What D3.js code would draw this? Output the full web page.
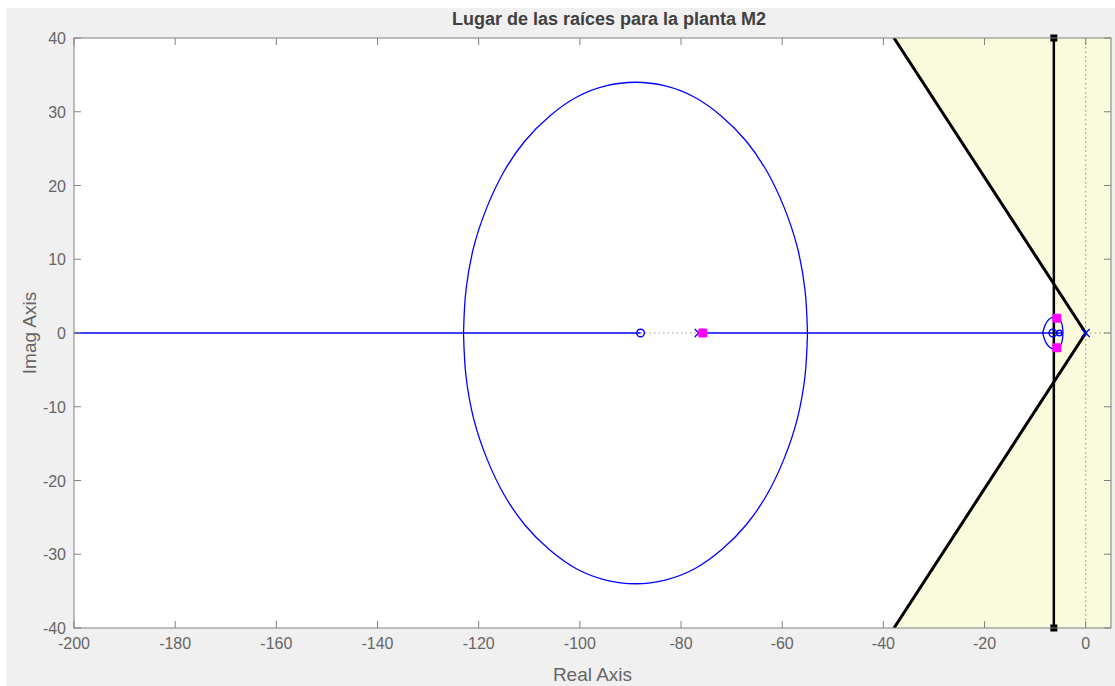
<!DOCTYPE html>
<html><head><meta charset="utf-8">
<script src="https://cdn.jsdelivr.net/npm/d3@7"></script>
<style>body{margin:0;background:#fff;}svg{display:block;font-family:"Liberation Sans",Arial,sans-serif;}</style>
</head><body>
<script>
// ---- data ----
const title = "Lugar de las raíces para la planta M2";
const xLabel = "Real Axis", yLabel = "Imag Axis";
const xDomain = [-200, 5], yDomain = [-40, 40];
const xTicks = [-200,-180,-160,-140,-120,-100,-80,-60,-40,-20,0];
const yTicks = [-40,-30,-20,-10,0,10,20,30,40];
// root locus big loop (upper half)
const loopUpperX = [-55,-55.5,-57,-59.6,-63,-67.1,-72,-77.4,-83.1,-89,-94.9,-100.6,-106,-110.9,-115,-118.4,-121,-122.5,-123];
const loopUpperY = [0,5.9,11.6,17,21.9,26,29.4,32,33.5,34,33.5,32,29.4,26,21.9,17,11.6,5.9,0];
// small loop near origin (upper half)
const smallUpperX = [-4.5,-4.7,-5.3,-6.2,-7.2,-8.0,-8.5];
const smallUpperY = [0,1.2,2.0,2.2,1.9,1.1,0];
// real-axis branches
const realSegments = [[-200,-88],[-76.5,-4.5]];
const dottedSegments = [[-88,-76.5],[0,5]];
const zerosX = [-88,-6.5,-5.2];
const polesX = [-76.5,0];
const clPolesX = [-75.7,-5.7,-5.7];
const clPolesY = [0,2,-2];
// design requirements
const settlingX = -6.3;
const dampX = -37.9; // cone reaches y=±40 at this real part

// ---- layout ----
const W = 1115, H = 686;
const L = 74, R = 1111, T = 38, B = 628;
const svg = d3.select("body").append("svg").attr("width",W).attr("height",H);
svg.append("rect").attr("x",6).attr("y",8).attr("width",W-6).attr("height",H-8).attr("fill","#f0f0f0");
const x = d3.scaleLinear().domain(xDomain).range([L,R]);
const y = d3.scaleLinear().domain(yDomain).range([B,T]);
svg.append("rect").attr("x",L).attr("y",T).attr("width",R-L).attr("height",B-T).attr("fill","#fff");
const g = svg.append("g");
g.append("defs").append("clipPath").attr("id","clip").append("rect").attr("x",L).attr("y",T).attr("width",R-L).attr("height",B-T);
const pg = g.append("g").attr("clip-path","url(#clip)");

// shaded region
const sy = -settlingX*40/(-dampX);
const shade = [[dampX,40],[settlingX,sy],[settlingX,-sy],[dampX,-40],[xDomain[1],-40],[xDomain[1],40]];
pg.append("path").attr("d",d3.line().x(d=>x(d[0])).y(d=>y(d[1]))(shade)+"Z").attr("fill","#fafadc");

// dotted lines
pg.append("line").attr("x1",x(0)).attr("x2",x(0)).attr("y1",T).attr("y2",B).attr("stroke","#999").attr("stroke-width",1.2).attr("stroke-dasharray","1.5,3");
dottedSegments.forEach(s=>pg.append("line").attr("x1",x(s[0])).attr("x2",x(s[1])).attr("y1",y(0)).attr("y2",y(0)).attr("stroke","#999").attr("stroke-width",1.2).attr("stroke-dasharray","1.5,3"));

// blue locus
const line = d3.line().x(d=>x(d[0])).y(d=>y(d[1]));
realSegments.forEach(s=>pg.append("line").attr("x1",x(s[0])).attr("x2",x(s[1])).attr("y1",y(0)).attr("y2",y(0)).attr("stroke","#0000ff").attr("stroke-width",1.3));
function loopPts(xs,ys){const up=xs.map((v,i)=>[v,ys[i]]);const dn=xs.map((v,i)=>[v,-ys[i]]);return [up,dn];}
loopPts(loopUpperX,loopUpperY).concat(loopPts(smallUpperX,smallUpperY)).forEach(p=>
  pg.append("path").attr("d",d3.line().x(d=>x(d[0])).y(d=>y(d[1])).curve(d3.curveCatmullRom)(p)).attr("fill","none").attr("stroke","#0000ff").attr("stroke-width",1.3));

// cone + settling line
pg.append("path").attr("d",line([[dampX,40],[0,0],[dampX,-40]])).attr("fill","none").attr("stroke","#000").attr("stroke-width",3);
pg.append("line").attr("x1",x(settlingX)).attr("x2",x(settlingX)).attr("y1",y(40)).attr("y2",y(-40)).attr("stroke","#000").attr("stroke-width",2.5);
[40,-40].forEach(v=>g.append("rect").attr("x",x(settlingX)-3.5).attr("y",y(v)-3.5).attr("width",7).attr("height",7).attr("fill","#000"));

// zeros and poles
zerosX.forEach((v,i)=>pg.append("circle").attr("cx",x(v)).attr("cy",y(0)).attr("r",i==2?2.8:3.8).attr("fill","none").attr("stroke","#0000ff").attr("stroke-width",1.4));
polesX.forEach(v=>{const cx=x(v),cy=y(0),s=4;pg.append("path").attr("d",`M${cx-s},${cy-s}L${cx+s},${cy+s}M${cx-s},${cy+s}L${cx+s},${cy-s}`).attr("stroke","#0000ff").attr("stroke-width",1.3);});
clPolesX.forEach((v,i)=>pg.append("rect").attr("x",x(v)-4.5).attr("y",y(clPolesY[i])-4.5).attr("width",9).attr("height",9).attr("rx",1.5).attr("fill","#ff00ff"));

// axes box and ticks
const ac="#808080", tc="#666666";
g.append("rect").attr("x",L).attr("y",T).attr("width",R-L).attr("height",B-T).attr("fill","none").attr("stroke",ac).attr("stroke-width",1);
xTicks.forEach(v=>{g.append("line").attr("x1",x(v)).attr("x2",x(v)).attr("y1",B).attr("y2",B-7).attr("stroke",ac);
  g.append("line").attr("x1",x(v)).attr("x2",x(v)).attr("y1",T).attr("y2",T+7).attr("stroke",ac);
  g.append("text").attr("x",x(v)).attr("y",B+21).attr("text-anchor","middle").attr("fill",tc).attr("font-size",16).text(v);});
yTicks.forEach(v=>{g.append("line").attr("x1",L).attr("x2",L+7).attr("y1",y(v)).attr("y2",y(v)).attr("stroke",ac);
  g.append("line").attr("x1",R).attr("x2",R-7).attr("y1",y(v)).attr("y2",y(v)).attr("stroke",ac);
  g.append("text").attr("x",L-8).attr("y",y(v)+6).attr("text-anchor","end").attr("fill",tc).attr("font-size",16).text(v);});
g.append("text").attr("x",(L+R)/2).attr("y",681).attr("text-anchor","middle").attr("fill",tc).attr("font-size",19).text(xLabel);
g.append("text").attr("transform",`translate(36,${(T+B)/2}) rotate(-90)`).attr("text-anchor","middle").attr("fill",tc).attr("font-size",19).text(yLabel);
g.append("text").attr("x",609).attr("y",25).attr("text-anchor","middle").attr("fill","#404040").attr("font-size",18).attr("font-weight","bold").text(title);
</script>
</body></html>
